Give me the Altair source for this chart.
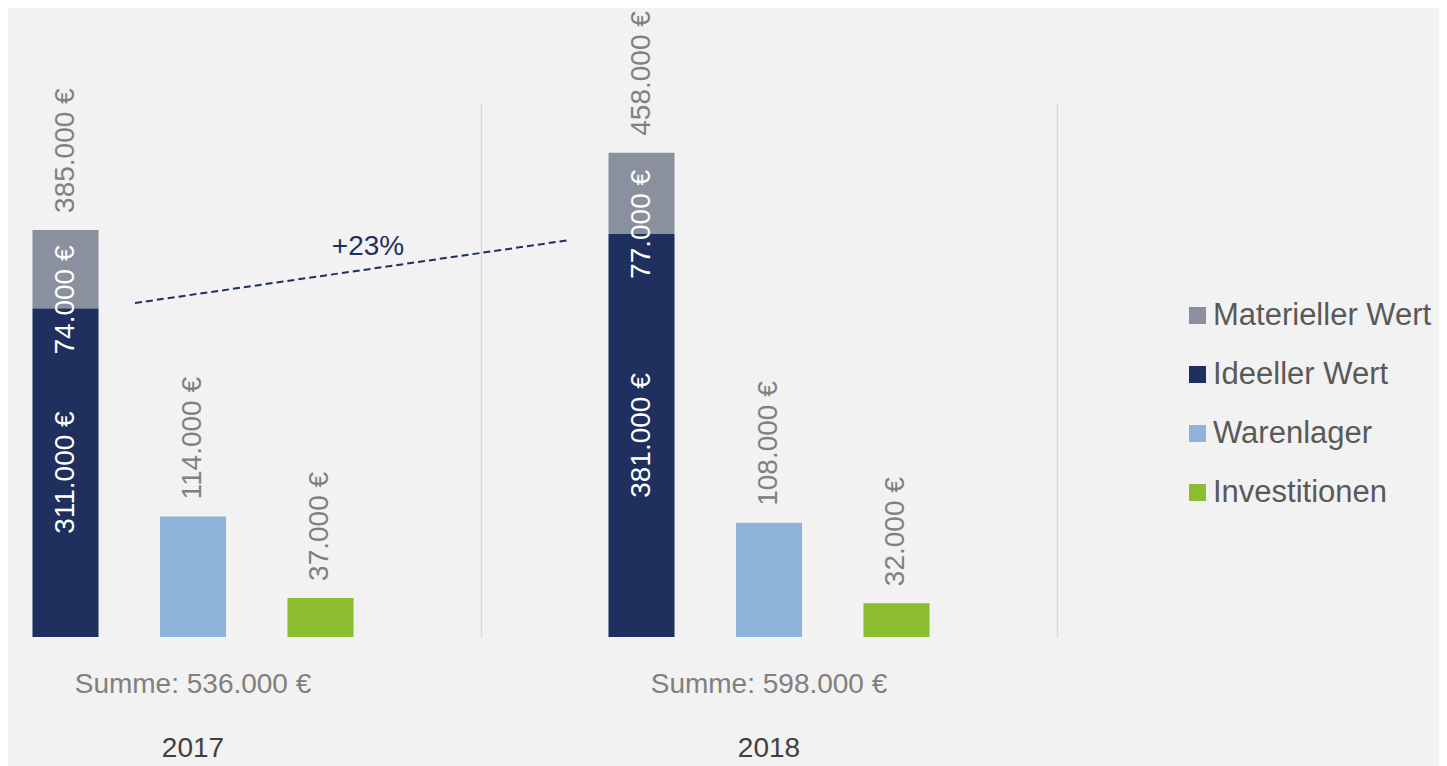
import altair as alt
import pandas as pd

# ---- data ----
years = ["2017", "2018"]
ideeller = [311000, 381000]
materieller = [74000, 77000]
warenlager = [114000, 108000]
investitionen = [37000, 32000]

series_names = ["Materieller Wert", "Ideeller Wert", "Warenlager", "Investitionen"]
series_colors = ["#8b909e", "#1f305e", "#8eb4dc", "#8cbc2f"]
slots = ["Gesamt", "Warenlager", "Investitionen"]
growth_label = "+23%"

FONT = "Liberation Sans"


def eur(v):
    return f"{v:,}".replace(",", ".") + " €"


bar_rows, inner_rows, top_rows, sum_rows = [], [], [], []
for i, yr in enumerate(years):
    bar_rows += [
        dict(year=yr, slot="Gesamt", series="Ideeller Wert", value=ideeller[i], stackorder=0),
        dict(year=yr, slot="Gesamt", series="Materieller Wert", value=materieller[i], stackorder=1),
        dict(year=yr, slot="Warenlager", series="Warenlager", value=warenlager[i], stackorder=0),
        dict(year=yr, slot="Investitionen", series="Investitionen", value=investitionen[i], stackorder=0),
    ]
    inner_rows += [
        dict(year=yr, slot="Gesamt", kind="ide", mid=ideeller[i] / 2, label=eur(ideeller[i])),
        dict(year=yr, slot="Gesamt", kind="mat", mid=ideeller[i] + materieller[i] / 2, label=eur(materieller[i])),
    ]
    top_rows += [
        dict(year=yr, slot="Gesamt", total=ideeller[i] + materieller[i], label=eur(ideeller[i] + materieller[i])),
        dict(year=yr, slot="Warenlager", total=warenlager[i], label=eur(warenlager[i])),
        dict(year=yr, slot="Investitionen", total=investitionen[i], label=eur(investitionen[i])),
    ]
    s = ideeller[i] + materieller[i] + warenlager[i] + investitionen[i]
    sum_rows.append(dict(year=yr, label="Summe: " + eur(s)))

bars_df = pd.DataFrame(bar_rows)
inner_df = pd.DataFrame(inner_rows)
top_df = pd.DataFrame(top_rows)
sum_df = pd.DataFrame(sum_rows)
growth_df = pd.DataFrame([{"label": growth_label}])

W, H = 1049, 534

xscale = alt.Scale(domain=years, range=[-103, 1049], paddingInner=0, paddingOuter=0)
X = alt.X(
    "year:N",
    scale=xscale,
    axis=alt.Axis(labels=False, ticks=False, domain=False, grid=True, tickBand="extent",
                  gridColor="#d9d9d9", gridWidth=1.5, title=None),
)
XO = alt.XOffset("slot:N", scale=alt.Scale(domain=slots, paddingInner=0.482, paddingOuter=1))
yscale = alt.Scale(domain=[0, 505000], nice=False, zero=True)

bars = alt.Chart(bars_df).mark_bar().encode(
    x=X,
    xOffset=XO,
    y=alt.Y("value:Q", stack="zero", scale=yscale, axis=None),
    color=alt.Color(
        "series:N",
        scale=alt.Scale(domain=series_names, range=series_colors),
        legend=alt.Legend(
            title=None, orient="none", legendX=1174, legendY=197,
            symbolType="square", symbolSize=289, symbolStrokeWidth=0,
            labelFontSize=31, labelFont=FONT, labelColor="#595959", labelLimit=0,
            rowPadding=27, labelOffset=0, padding=0,
        ),
    ),
    order=alt.Order("stackorder:Q"),
)

inner_ide = alt.Chart(inner_df).transform_filter("datum.kind == 'ide'").mark_text(
    angle=270, fontSize=28, font=FONT, color="white", align="center", baseline="middle"
).encode(x=X, xOffset=XO, y=alt.Y("mid:Q", scale=yscale, axis=None), text="label:N")

inner_mat = alt.Chart(inner_df).transform_filter("datum.kind == 'mat'").mark_text(
    angle=270, fontSize=28, font=FONT, color="white", align="center", baseline="middle", dx=-31
).encode(x=X, xOffset=XO, y=alt.Y("mid:Q", scale=yscale, axis=None), text="label:N")

tops = alt.Chart(top_df).mark_text(
    angle=270, fontSize=28, font=FONT, color="#808080", align="left", baseline="middle", dx=17
).encode(x=X, xOffset=XO, y=alt.Y("total:Q", scale=yscale, axis=None), text="label:N")

sums = alt.Chart(sum_df).mark_text(
    fontSize=28, font=FONT, color="#808080", align="center", baseline="alphabetic"
).encode(x=X, y=alt.value(590), text="label:N")

year_labels = alt.Chart(sum_df).mark_text(
    fontSize=28, font=FONT, color="#404040", align="center", baseline="alphabetic"
).encode(x=X, y=alt.value(654), text="year:N")

trend = alt.Chart(growth_df).mark_rule(
    strokeDash=[7, 4], strokeWidth=2, color="#1f305e"
).encode(x=alt.value(127), x2=alt.value(562), y=alt.value(200), y2=alt.value(137))

growth = alt.Chart(growth_df).mark_text(
    fontSize=28, font=FONT, color="#1f305e", align="center", baseline="alphabetic"
).encode(x=alt.value(360), y=alt.value(152), text="label:N")

chart = alt.layer(bars, inner_ide, inner_mat, tops, sums, year_labels, trend, growth).properties(
    width=W,
    height=H,
    background="#f2f2f2",
    padding={"left": 0, "top": 95, "right": 382, "bottom": 129},
    autosize=alt.AutoSizeParams(type="none"),
).configure_view(stroke=None)

chart.save("out.html", embed_options={"renderer": "svg", "actions": False})
